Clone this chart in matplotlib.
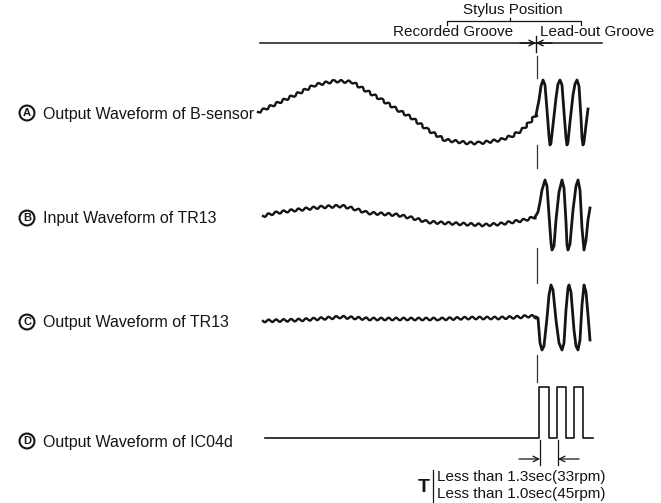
import matplotlib.pyplot as plt

# all positions in image pixels (x right, y down)

# trace A: slow part (recorded groove) and lead-out oscillation
a_slow_x = [258, 263, 282, 295, 315, 335, 352, 365, 382, 398, 412, 428, 445, 468, 480, 500, 512, 522, 530, 536]
a_slow_y = [112, 110, 101, 95, 85, 81, 82, 90, 100, 110, 118, 130, 140, 143, 143, 140, 136, 130, 122, 115]
a_lead_x = [536, 539, 541, 543, 545, 547, 549, 550, 551, 553, 556, 558, 560, 562, 564, 566, 567, 568,
            570, 573, 575, 577, 579, 581, 582, 583, 584, 586, 588]
a_lead_y = [115, 100, 86, 80, 85, 110, 136, 145, 143, 125, 98, 84, 80, 85, 112, 138, 145, 142,
            122, 95, 84, 80, 86, 118, 138, 145, 142, 125, 109]

# trace B
b_slow_x = [263, 275, 288, 305, 322, 342, 355, 368, 385, 398, 412, 428, 445, 462, 485, 500, 512, 525, 535]
b_slow_y = [216, 213, 211, 209, 207, 206, 209, 213, 214, 215, 218, 222, 223, 224, 225, 224, 222, 220, 217]
b_lead_x = [535, 538, 540, 542, 545, 547, 549, 551, 552, 554, 556, 559, 562, 564, 566, 567, 568,
            570, 573, 576, 578, 580, 582, 584, 586, 588, 590]
b_lead_y = [217, 212, 202, 190, 180, 186, 215, 243, 250, 246, 220, 192, 180, 188, 222, 245, 250,
            244, 210, 186, 180, 190, 228, 250, 240, 220, 208]

# trace C
c_slow_x = [263, 300, 330, 340, 370, 400, 440, 470, 500, 520, 530, 536]
c_slow_y = [321, 320, 318, 317, 319, 319, 319, 318, 318, 317, 316, 317]
c_lead_x = [536, 538, 539, 540, 542, 544, 547, 549, 551, 553, 556, 559, 562, 564, 566, 568, 569,
            571, 574, 576, 578, 580, 582, 584, 586, 588, 590]
c_lead_y = [317, 318, 330, 343, 350, 346, 318, 295, 285, 290, 320, 343, 350, 343, 310, 288, 285,
            292, 330, 346, 350, 340, 305, 285, 292, 315, 340]

# trace D: flat line then three pulses
d_x = [265, 539, 539, 549, 549, 557, 557, 566, 566, 574, 574, 583, 583, 593]
d_y = [438, 438, 387, 387, 438, 438, 387, 387, 438, 438, 387, 387, 438, 438]

labels = ['Output Waveform of B-sensor', 'Input Waveform of TR13',
          'Output Waveform of TR13', 'Output Waveform of IC04d']
letters = ['A', 'B', 'C', 'D']
label_y = [113, 218, 322, 441]

dash_segments = [(56, 78), (145, 168), (248, 283), (355, 382)]

ink = '#151515'

fig = plt.figure(figsize=(6.61, 5.03), dpi=100)
ax = fig.add_axes([0, 0, 1, 1])
ax.set_xlim(0, 661)
ax.set_ylim(503, 0)
ax.axis('off')

plt.rcParams['font.family'] = ['Liberation Sans', 'DejaVu Sans']

# rippled recorded-groove parts
for xs, ys in [(a_slow_x, a_slow_y), (b_slow_x, b_slow_y), (c_slow_x, c_slow_y)]:
    ln, = ax.plot(xs, ys, color=ink, lw=1.7, solid_joinstyle='round')
    ln.set_sketch_params(1.3, 7.5, 1.0)

for xs, ys in [(a_lead_x, a_lead_y), (b_lead_x, b_lead_y), (c_lead_x, c_lead_y)]:
    ax.plot(xs, ys, color=ink, lw=2.0, solid_joinstyle='round')

ax.plot(d_x, d_y, color=ink, lw=1.2)

# stylus position marker
for y0, y1 in dash_segments:
    ax.plot([537, 537], [y0, y1], color='#333333', lw=0.9)

# header
ax.plot([260, 602], [43, 43], color=ink, lw=1.1)
ax.annotate('', xy=(536, 43), xytext=(520, 43),
            arrowprops=dict(arrowstyle='->', color=ink, lw=1.0, shrinkA=0, shrinkB=0))
ax.annotate('', xy=(536, 43), xytext=(552, 43),
            arrowprops=dict(arrowstyle='->', color=ink, lw=1.0, shrinkA=0, shrinkB=0))
ax.plot([536, 536], [36, 52], color=ink, lw=1.0)
ax.plot([447, 447, 581, 581], [25, 21, 21, 25], color=ink, lw=0.9)
ax.plot([510, 510], [18, 21], color=ink, lw=0.9)

ax.text(513, 10, 'Stylus Position', fontsize=11, ha='center', va='center', color=ink)
ax.text(513, 32, 'Recorded Groove', fontsize=11, ha='right', va='center', color=ink)
ax.text(540, 32, 'Lead-out Groove', fontsize=11, ha='left', va='center', color=ink)

# trace labels
for letter, text, y in zip(letters, labels, label_y):
    ax.text(27, y, letter, fontsize=8, fontweight='bold', ha='center', va='center', color=ink,
            bbox=dict(boxstyle='circle,pad=0.22', fc='white', ec=ink, lw=1.5))
    ax.text(43, y + 1, text, fontsize=11.5, ha='left', va='center', color=ink)

# period dimension
ax.plot([540, 540], [440, 465], color=ink, lw=0.9)
ax.plot([558, 558], [440, 465], color=ink, lw=0.9)
ax.annotate('', xy=(540, 459), xytext=(519, 459),
            arrowprops=dict(arrowstyle='->', color=ink, lw=0.9, shrinkA=0, shrinkB=0))
ax.annotate('', xy=(558, 459), xytext=(579, 459),
            arrowprops=dict(arrowstyle='->', color=ink, lw=0.9, shrinkA=0, shrinkB=0))

ax.text(424, 487, 'T', fontsize=14, fontweight='bold', ha='center', va='center', color=ink)
ax.plot([433, 433], [470, 502], color=ink, lw=0.9)
ax.text(437, 477, 'Less than 1.3sec(33rpm)', fontsize=11, ha='left', va='center', color=ink)
ax.text(437, 494, 'Less than 1.0sec(45rpm)', fontsize=11, ha='left', va='center', color=ink)

fig.savefig('out.png', dpi=100, facecolor='white')
